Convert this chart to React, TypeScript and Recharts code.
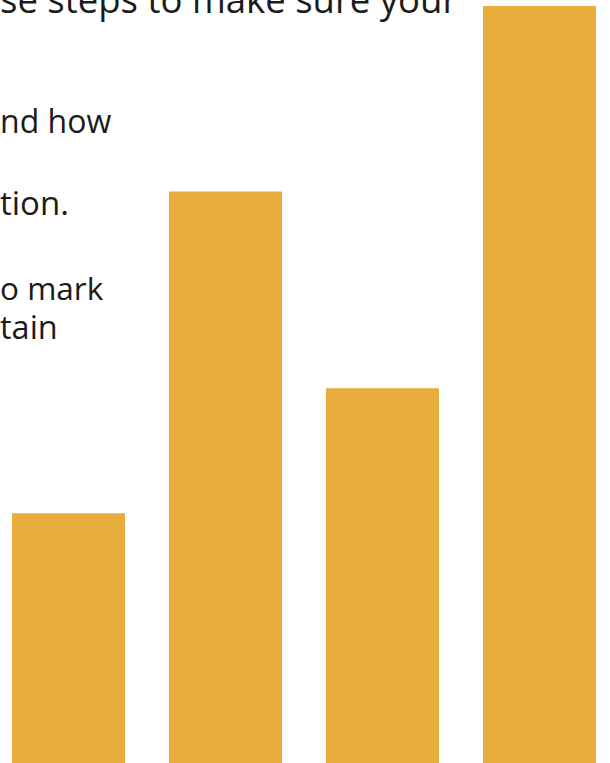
import { BarChart, Bar, XAxis, YAxis } from "recharts";

const categories = ["A", "B", "C", "D"];
const values = [33, 75.5, 49.5, 100];

// fragments of the paragraph that sits behind the chart
const textLines = ["se steps to make sure your", "nd how", "tion.", "o mark", "tain"];
const textBaselines = [13, 133, 215, 300, 340];
const textSizes = [36.5, 32, 33, 31.5, 32.5];

const data = categories.map((name, i) => ({ name, value: values[i] }));

const App = () => {
  return (
    <div
      style={{
        position: "fixed",
        left: 0,
        top: 0,
        width: 610,
        height: 763,
        overflow: "hidden",
        background: "#ffffff",
      }}
    >
      {textLines.map((line, i) => (
        <div
          key={line}
          style={{
            position: "absolute",
            left: 0,
            top: textBaselines[i] - textSizes[i] * 0.888,
            fontFamily: "'Open Sans', sans-serif",
            fontSize: textSizes[i],
            lineHeight: `${textSizes[i]}px`,
            color: "#1b1b1b",
            whiteSpace: "nowrap",
          }}
        >
          {line}
        </div>
      ))}
      <div style={{ position: "absolute", left: -10, top: 0 }}>
        <BarChart
          width={628}
          height={763}
          data={data}
          barCategoryGap={22}
          margin={{ top: 6, right: 0, bottom: 0, left: 0 }}
        >
          <XAxis dataKey="name" hide />
          <YAxis hide domain={[0, 100]} />
          <Bar dataKey="value" fill="#e9ad3d" isAnimationActive={false} />
        </BarChart>
      </div>
    </div>
  );
};

export default App;
